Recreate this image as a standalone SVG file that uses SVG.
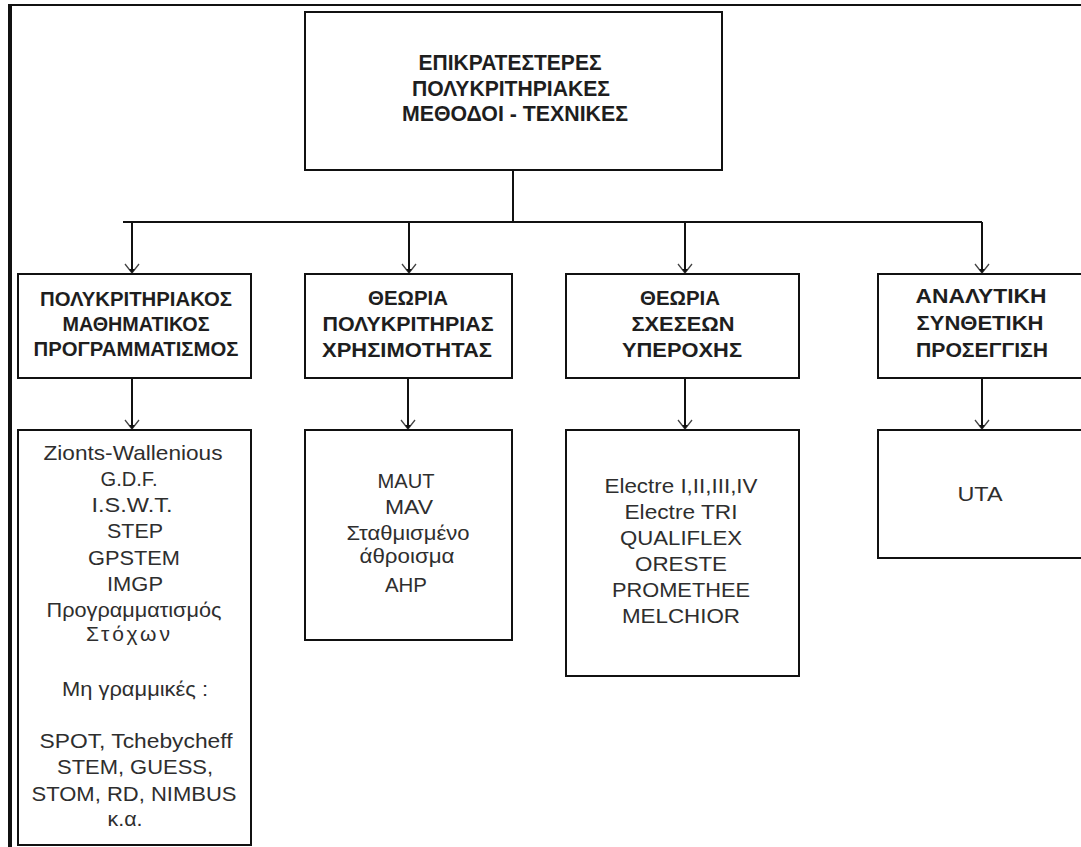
<svg xmlns="http://www.w3.org/2000/svg" width="1081" height="847" viewBox="0 0 1081 847">
  <defs>
    <style>
      .box { fill: #fff; stroke: #111; stroke-width: 2; }
      .wire { fill: none; stroke: #111; stroke-width: 2; }
      .head { font-family: "Liberation Sans", Arial, sans-serif; font-weight: bold; fill: #1e1e1e; text-anchor: middle; }
      .top { font-size: 22px; }
      .cat { font-size: 20px; }
      .item { font-family: "Liberation Sans", Arial, sans-serif; font-size: 21px; fill: #2e2e2e; text-anchor: middle; }
    </style>
    <marker id="arrow" viewBox="0 0 10 16" refX="10" refY="8" markerWidth="10" markerHeight="16" markerUnits="userSpaceOnUse" orient="auto">
      <path d="M1,1 L10,8 L1,15" fill="none" stroke="#444" stroke-width="1.3"/>
      <path d="M6,5 L10,8 L6,11 Z" fill="#111"/>
    </marker>
  </defs>

  <rect width="1081" height="847" fill="#fff"/>

  <!-- page frame -->
  <g id="frame">
    <line x1="8" y1="5" x2="1081" y2="5" stroke="#111" stroke-width="2"/>
    <line x1="10" y1="4" x2="10" y2="847" stroke="#111" stroke-width="4"/>
  </g>

  <!-- connectors -->
  <g id="connectors">
    <path class="wire" d="M513,170 V222 M123,222 H982"/>
    <line class="wire" x1="132" y1="222" x2="132" y2="273" marker-end="url(#arrow)"/>
    <line class="wire" x1="409" y1="222" x2="409" y2="273" marker-end="url(#arrow)"/>
    <line class="wire" x1="685" y1="222" x2="685" y2="273" marker-end="url(#arrow)"/>
    <line class="wire" x1="982" y1="222" x2="982" y2="273" marker-end="url(#arrow)"/>
    <line class="wire" x1="132" y1="378" x2="132" y2="429" marker-end="url(#arrow)"/>
    <line class="wire" x1="408" y1="378" x2="408" y2="429" marker-end="url(#arrow)"/>
    <line class="wire" x1="685" y1="378" x2="685" y2="429" marker-end="url(#arrow)"/>
    <line class="wire" x1="982" y1="378" x2="982" y2="429" marker-end="url(#arrow)"/>
  </g>

  <!-- root -->
  <g id="root">
    <rect class="box" x="305" y="12" width="417" height="158"/>
    <text class="head top" x="510" y="70" textLength="183" lengthAdjust="spacingAndGlyphs">ΕΠΙΚΡΑΤΕΣΤΕΡΕΣ</text>
    <text class="head top" x="511" y="96" textLength="198" lengthAdjust="spacingAndGlyphs">ΠΟΛΥΚΡΙΤΗΡΙΑΚΕΣ</text>
    <text class="head top" x="515" y="121" textLength="226" lengthAdjust="spacingAndGlyphs">ΜΕΘΟΔΟΙ - ΤΕΧΝΙΚΕΣ</text>
  </g>

  <!-- categories -->
  <g id="cat-mathprog">
    <rect class="box" x="18" y="274" width="233" height="104"/>
    <text class="head cat" x="136" y="306" textLength="192" lengthAdjust="spacingAndGlyphs">ΠΟΛΥΚΡΙΤΗΡΙΑΚΟΣ</text>
    <text class="head cat" x="136" y="331" textLength="147" lengthAdjust="spacingAndGlyphs">ΜΑΘΗΜΑΤΙΚΟΣ</text>
    <text class="head cat" x="136" y="356" textLength="205" lengthAdjust="spacingAndGlyphs">ΠΡΟΓΡΑΜΜΑΤΙΣΜΟΣ</text>
  </g>

  <g id="cat-utility">
    <rect class="box" x="305" y="274" width="207" height="104"/>
    <text class="head cat" x="408" y="305" textLength="80" lengthAdjust="spacingAndGlyphs">ΘΕΩΡΙΑ</text>
    <text class="head cat" x="408" y="331" textLength="171" lengthAdjust="spacingAndGlyphs">ΠΟΛΥΚΡΙΤΗΡΙΑΣ</text>
    <text class="head cat" x="407" y="357" textLength="170" lengthAdjust="spacingAndGlyphs">ΧΡΗΣΙΜΟΤΗΤΑΣ</text>
  </g>

  <g id="cat-outranking">
    <rect class="box" x="566" y="274" width="233" height="104"/>
    <text class="head cat" x="680" y="305" textLength="80" lengthAdjust="spacingAndGlyphs">ΘΕΩΡΙΑ</text>
    <text class="head cat" x="683" y="331" textLength="103" lengthAdjust="spacingAndGlyphs">ΣΧΕΣΕΩΝ</text>
    <text class="head cat" x="682" y="357" textLength="120" lengthAdjust="spacingAndGlyphs">ΥΠΕΡΟΧΗΣ</text>
  </g>

  <g id="cat-disaggregation">
    <rect class="box" x="878" y="274" width="208" height="104"/>
    <text class="head cat" x="981" y="303" textLength="131" lengthAdjust="spacingAndGlyphs">ΑΝΑΛΥΤΙΚΗ</text>
    <text class="head cat" x="980" y="330" textLength="127" lengthAdjust="spacingAndGlyphs">ΣΥΝΘΕΤΙΚΗ</text>
    <text class="head cat" x="982" y="357" textLength="132" lengthAdjust="spacingAndGlyphs">ΠΡΟΣΕΓΓΙΣΗ</text>
  </g>

  <!-- method lists -->
  <g id="list-mathprog">
    <rect class="box" x="18" y="430" width="233" height="415"/>
    <text class="item" x="133" y="460" textLength="179" lengthAdjust="spacingAndGlyphs">Zionts-Wallenious</text>
    <text class="item" x="129" y="486" textLength="57" lengthAdjust="spacingAndGlyphs">G.D.F.</text>
    <text class="item" x="132" y="512" textLength="81" lengthAdjust="spacingAndGlyphs">I.S.W.T.</text>
    <text class="item" x="135" y="538" textLength="56" lengthAdjust="spacingAndGlyphs">STEP</text>
    <text class="item" x="134" y="565" textLength="92" lengthAdjust="spacingAndGlyphs">GPSTEM</text>
    <text class="item" x="135" y="591" textLength="56" lengthAdjust="spacingAndGlyphs">IMGP</text>
    <text class="item" x="134" y="617" textLength="175" lengthAdjust="spacingAndGlyphs">Προγραμματισμός</text>
    <text class="item" x="128" y="641" textLength="84" lengthAdjust="spacing">Στόχων</text>
    <text class="item" x="135" y="696" textLength="146" lengthAdjust="spacingAndGlyphs">Μη γραμμικές :</text>
    <text class="item" x="136" y="748" textLength="193" lengthAdjust="spacingAndGlyphs">SPOT, Tchebycheff</text>
    <text class="item" x="135" y="774" textLength="156" lengthAdjust="spacingAndGlyphs">STEM, GUESS,</text>
    <text class="item" x="134" y="801" textLength="205" lengthAdjust="spacingAndGlyphs">STOM, RD, NIMBUS</text>
    <text class="item" x="125" y="826" textLength="35" lengthAdjust="spacingAndGlyphs">κ.α.</text>
  </g>

  <g id="list-utility">
    <rect class="box" x="305" y="430" width="207" height="210"/>
    <text class="item" x="406" y="488" textLength="57" lengthAdjust="spacingAndGlyphs">MAUT</text>
    <text class="item" x="409" y="514" textLength="48" lengthAdjust="spacingAndGlyphs">MAV</text>
    <text class="item" x="408" y="540" textLength="123" lengthAdjust="spacingAndGlyphs">Σταθμισμένο</text>
    <text class="item" x="407" y="563" textLength="95" lengthAdjust="spacingAndGlyphs">άθροισμα</text>
    <text class="item" x="406" y="592" textLength="42" lengthAdjust="spacingAndGlyphs">AHP</text>
  </g>

  <g id="list-outranking">
    <rect class="box" x="566" y="430" width="233" height="246"/>
    <text class="item" x="681" y="493" textLength="153" lengthAdjust="spacingAndGlyphs">Electre I,II,III,IV</text>
    <text class="item" x="681" y="519" textLength="113" lengthAdjust="spacingAndGlyphs">Electre TRI</text>
    <text class="item" x="681" y="545" textLength="122" lengthAdjust="spacingAndGlyphs">QUALIFLEX</text>
    <text class="item" x="681" y="571" textLength="92" lengthAdjust="spacingAndGlyphs">ORESTE</text>
    <text class="item" x="681" y="597" textLength="138" lengthAdjust="spacingAndGlyphs">PROMETHEE</text>
    <text class="item" x="681" y="623" textLength="118" lengthAdjust="spacingAndGlyphs">MELCHIOR</text>
  </g>

  <g id="list-disaggregation">
    <rect class="box" x="878" y="430" width="208" height="128"/>
    <text class="item" x="980" y="501" textLength="45" lengthAdjust="spacingAndGlyphs">UTA</text>
  </g>
</svg>
